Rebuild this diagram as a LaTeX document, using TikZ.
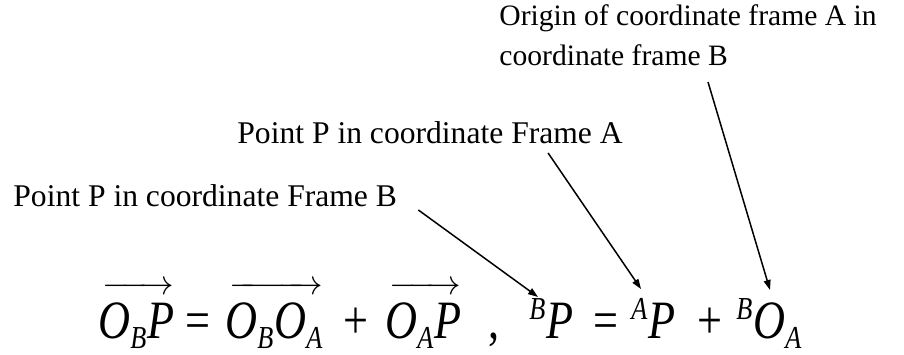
\documentclass[tikz,border=0pt]{standalone}
\usepackage{amsmath}
\usepackage{fontspec}
\setmainfont{Liberation Serif}
\newfontfamily\eqfont[FakeStretch=0.82]{Liberation Serif}
\usetikzlibrary{positioning,arrows.meta,calc}
\DeclareMathSizes{27}{27}{16}{12}
\newcommand{\tv}[1]{\text{\eqfont\itshape #1}}
\newcommand{\sbx}[1]{\lower1.5pt\hbox{\fontsize{16}{16}\selectfont\eqfont\itshape #1}}
\newcommand{\ovec}[1]{\mathord{\vbox{\offinterlineskip\halign{##\cr
  \hskip2pt{\fontsize{18}{18}\selectfont\rightarrowfill}\cr\noalign{\kern4pt}
  $#1$\cr}}}}

\begin{document}
\begin{tikzpicture}[
    x=0.5pt, y=-0.5pt,
    lbl/.style={anchor=base west, inner sep=0pt, font=\fontsize{15.8}{19}\selectfont},
    eq/.style={anchor=base west, inner sep=0pt, font=\fontsize{27}{32}\selectfont\eqfont},
    >={Triangle[length=5pt,width=3.4pt]}]
    \useasboundingbox (0,0) rectangle (904,354);
    % labels
    \node[lbl] (lblB) at (13,206) {Point P in coordinate Frame B};
    \node[lbl] (lblA) at (237,143) {Point P in coordinate Frame A};
    \node[lbl, align=left, font=\fontsize{14.8}{20}\selectfont] (lblO) at (499,65)
      {Origin of coordinate frame A in\\coordinate frame B};
    % vector form
    \node[eq] (vOBP) at (98,338) {$\ovec{\tv{O}_{\sbx{B}}\tv{P}}$};
    \node[eq] (eqA) at (185,338) {=};
    \node[eq] (vOBOA) at (225,338) {$\ovec{\tv{O}_{\sbx{B}}\tv{O}_{\sbx{A}}}$};
    \node[eq] (plusA) at (343,338) {+};
    \node[eq] (vOAP) at (385,338) {$\ovec{\tv{O}_{\sbx{A}}\tv{P}}$};
    \node[eq] (comma) at (488,338) {,};
    % frame form
    \node[eq] (bP) at (529,338) {${}^{\tv{B}}\tv{P}$};
    \node[eq] (eqB) at (593,338) {=};
    \node[eq] (aP) at (631,338) {${}^{\tv{A}}\tv{P}$};
    \node[eq] (plusB) at (697,338) {+};
    \node[eq] (bOA) at (736,338) {${}^{\tv{B}}\tv{O}_{\sbx{A}}$};
    % pointers
    \draw[->, line width=0.75pt] ($(lblB.base east)+(21,4)$) -- ($(bP.base west)+(9,-41)$);
    \draw[->, line width=0.75pt] ($(lblA.base east)+(-75,10)$) -- ($(aP.base west)+(10,-49)$);
    \draw[->, line width=0.75pt] ($(lblO.base west)+(209,17)$) -- ($(bOA.base west)+(34,-48)$);
\end{tikzpicture}
\end{document}
